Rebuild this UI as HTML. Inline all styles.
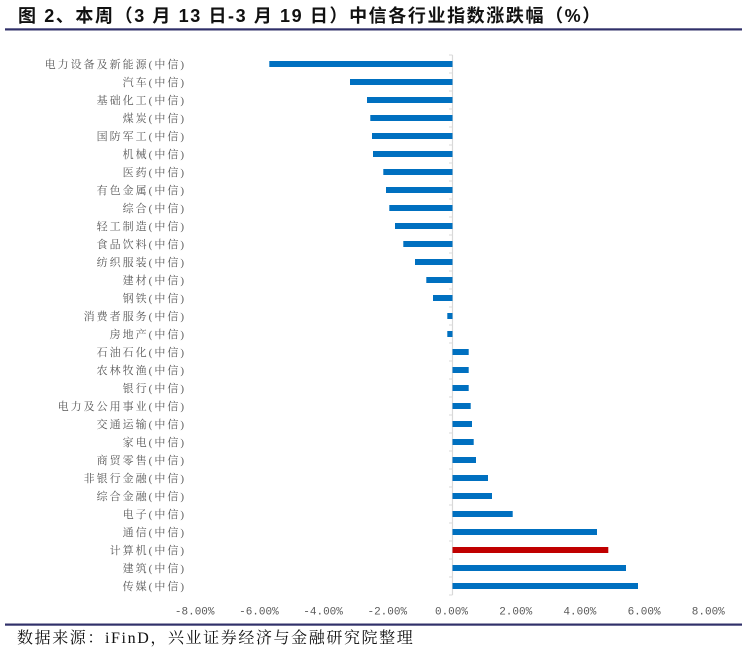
<!DOCTYPE html>
<html>
<head>
<meta charset="utf-8">
<style>
html,body{margin:0;padding:0;background:#fff;}
svg{display:block;}
</style>
</head>
<body>
<svg width="742" height="650" viewBox="0 0 742 650" xmlns="http://www.w3.org/2000/svg">
<rect width="742" height="650" fill="#fff"/>
<text x="18" y="22" font-family="'Liberation Sans','Noto Sans CJK SC',sans-serif" font-size="18" font-weight="bold" letter-spacing="1.6" fill="#111">图 2、本周（3 月 13 日-3 月 19 日）中信各行业指数涨跌幅（%）</text>
<rect x="5" y="28.3" width="737" height="2.2" fill="#30306a"/>

<!-- axis -->
<line x1="452.5" y1="55" x2="452.5" y2="595" stroke="#d9d9d9" stroke-width="1.2"/>
<g stroke="#d9d9d9" stroke-width="1">
<line x1="449" y1="55" x2="452.5" y2="55"/><line x1="449" y1="73" x2="452.5" y2="73"/><line x1="449" y1="91" x2="452.5" y2="91"/><line x1="449" y1="109" x2="452.5" y2="109"/><line x1="449" y1="127" x2="452.5" y2="127"/><line x1="449" y1="145" x2="452.5" y2="145"/><line x1="449" y1="163" x2="452.5" y2="163"/><line x1="449" y1="181" x2="452.5" y2="181"/><line x1="449" y1="199" x2="452.5" y2="199"/><line x1="449" y1="217" x2="452.5" y2="217"/><line x1="449" y1="235" x2="452.5" y2="235"/><line x1="449" y1="253" x2="452.5" y2="253"/><line x1="449" y1="271" x2="452.5" y2="271"/><line x1="449" y1="289" x2="452.5" y2="289"/><line x1="449" y1="307" x2="452.5" y2="307"/><line x1="449" y1="325" x2="452.5" y2="325"/><line x1="449" y1="343" x2="452.5" y2="343"/><line x1="449" y1="361" x2="452.5" y2="361"/><line x1="449" y1="379" x2="452.5" y2="379"/><line x1="449" y1="397" x2="452.5" y2="397"/><line x1="449" y1="415" x2="452.5" y2="415"/><line x1="449" y1="433" x2="452.5" y2="433"/><line x1="449" y1="451" x2="452.5" y2="451"/><line x1="449" y1="469" x2="452.5" y2="469"/><line x1="449" y1="487" x2="452.5" y2="487"/><line x1="449" y1="505" x2="452.5" y2="505"/><line x1="449" y1="523" x2="452.5" y2="523"/><line x1="449" y1="541" x2="452.5" y2="541"/><line x1="449" y1="559" x2="452.5" y2="559"/><line x1="449" y1="577" x2="452.5" y2="577"/><line x1="449" y1="595" x2="452.5" y2="595"/>
</g>

<!-- bars -->
<g fill="#0070c0">
<rect x="269.3" y="61" width="183.2" height="6"/>
<rect x="350" y="79" width="102.5" height="6"/>
<rect x="367" y="97" width="85.5" height="6"/>
<rect x="370.3" y="115" width="82.2" height="6"/>
<rect x="372" y="133" width="80.5" height="6"/>
<rect x="373" y="151" width="79.5" height="6"/>
<rect x="383.3" y="169" width="69.2" height="6"/>
<rect x="386" y="187" width="66.5" height="6"/>
<rect x="389.3" y="205" width="63.2" height="6"/>
<rect x="395" y="223" width="57.5" height="6"/>
<rect x="403.3" y="241" width="49.2" height="6"/>
<rect x="415" y="259" width="37.5" height="6"/>
<rect x="426.3" y="277" width="26.2" height="6"/>
<rect x="433" y="295" width="19.5" height="6"/>
<rect x="447.3" y="313" width="5.2" height="6"/>
<rect x="447.3" y="331" width="5.2" height="6"/>
<rect x="452.5" y="349" width="16.2" height="6"/>
<rect x="452.5" y="367" width="16.2" height="6"/>
<rect x="452.5" y="385" width="16.2" height="6"/>
<rect x="452.5" y="403" width="18.2" height="6"/>
<rect x="452.5" y="421" width="19.5" height="6"/>
<rect x="452.5" y="439" width="21.2" height="6"/>
<rect x="452.5" y="457" width="23.5" height="6"/>
<rect x="452.5" y="475" width="35.5" height="6"/>
<rect x="452.5" y="493" width="39.5" height="6"/>
<rect x="452.5" y="511" width="60.2" height="6"/>
<rect x="452.5" y="529" width="144.5" height="6"/>
<rect x="452.5" y="565" width="173.5" height="6"/>
<rect x="452.5" y="583" width="185.5" height="6"/>
</g>
<rect x="452.5" y="547" width="155.8" height="6" fill="#c00000"/>

<!-- category labels -->
<g font-family="'Liberation Serif','Noto Serif CJK SC',serif" font-size="11" letter-spacing="2" fill="#595959" text-anchor="end">
<text x="186" y="68">电力设备及新能源(中信)</text>
<text x="186" y="86">汽车(中信)</text>
<text x="186" y="104">基础化工(中信)</text>
<text x="186" y="122">煤炭(中信)</text>
<text x="186" y="140">国防军工(中信)</text>
<text x="186" y="158">机械(中信)</text>
<text x="186" y="176">医药(中信)</text>
<text x="186" y="194">有色金属(中信)</text>
<text x="186" y="212">综合(中信)</text>
<text x="186" y="230">轻工制造(中信)</text>
<text x="186" y="248">食品饮料(中信)</text>
<text x="186" y="266">纺织服装(中信)</text>
<text x="186" y="284">建材(中信)</text>
<text x="186" y="302">钢铁(中信)</text>
<text x="186" y="320">消费者服务(中信)</text>
<text x="186" y="338">房地产(中信)</text>
<text x="186" y="356">石油石化(中信)</text>
<text x="186" y="374">农林牧渔(中信)</text>
<text x="186" y="392">银行(中信)</text>
<text x="186" y="410">电力及公用事业(中信)</text>
<text x="186" y="428">交通运输(中信)</text>
<text x="186" y="446">家电(中信)</text>
<text x="186" y="464">商贸零售(中信)</text>
<text x="186" y="482">非银行金融(中信)</text>
<text x="186" y="500">综合金融(中信)</text>
<text x="186" y="518">电子(中信)</text>
<text x="186" y="536">通信(中信)</text>
<text x="186" y="554">计算机(中信)</text>
<text x="186" y="572">建筑(中信)</text>
<text x="186" y="590">传媒(中信)</text>
</g>

<!-- x tick labels -->
<g font-family="'Liberation Mono',monospace" font-size="11" fill="#595959" text-anchor="middle">
<text x="194.7" y="614.5">-8.00%</text>
<text x="258.9" y="614.5">-6.00%</text>
<text x="323.1" y="614.5">-4.00%</text>
<text x="387.3" y="614.5">-2.00%</text>
<text x="451.5" y="614.5">0.00%</text>
<text x="515.7" y="614.5">2.00%</text>
<text x="579.9" y="614.5">4.00%</text>
<text x="644.1" y="614.5">6.00%</text>
<text x="708.3" y="614.5">8.00%</text>
</g>

<rect x="5" y="623.5" width="737" height="2.2" fill="#30306a"/>
<text x="17" y="643" font-family="'Liberation Serif','Noto Serif CJK SC',serif" font-size="16" letter-spacing="1.6" fill="#111">数据来源：iFinD，兴业证券经济与金融研究院整理</text>
</svg>
</body>
</html>
